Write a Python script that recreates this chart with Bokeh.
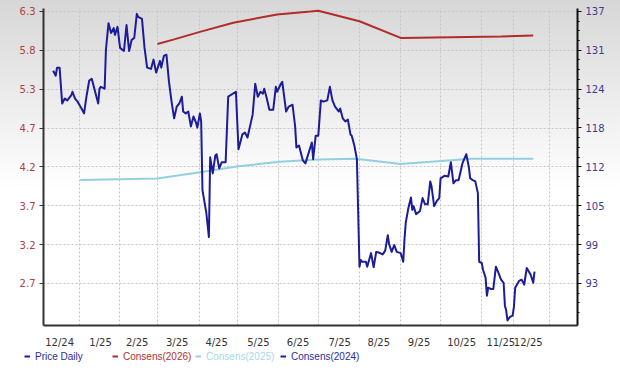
import numpy as np
from bokeh.plotting import figure
from bokeh.layouts import column, row
from bokeh.models import Range1d, LinearAxis, FixedTicker, Legend, LegendItem
from bokeh.embed import file_html
from bokeh.resources import INLINE

# x values: days since 2024-12-01
price_day = [10, 12, 13, 15, 17, 19, 21, 24, 25, 27, 29, 32, 34, 36, 38, 40, 42, 45, 46, 47,
             50, 51, 53, 55, 57, 58, 60, 62, 65, 67, 69, 71, 73, 75, 76, 79, 81, 83, 86, 88,
             90, 93, 94, 96, 98, 100, 102, 104, 106, 108, 110, 111, 113, 115, 117, 119, 121, 122, 124, 125,
             126, 129, 131, 132, 134, 136, 137, 139, 141, 144, 146, 152, 154, 157, 159, 161, 165, 167, 169, 171,
             173, 174, 176, 178, 181, 183, 184, 187, 188, 191, 193, 196, 198, 199, 201, 204, 206, 207, 211, 212,
             214, 216, 218, 220, 223, 225, 227, 229, 232, 233, 235, 237, 239, 241, 242, 244, 246, 248, 249, 250,
             253, 254, 257, 259, 261, 263, 266, 268, 270, 271, 273, 275, 277, 280, 282, 283, 284, 286, 288, 289,
             290, 292, 295, 297, 299, 301, 303, 304, 306, 308, 310, 311, 314, 317, 319, 321, 323, 325, 328, 331,
             333, 334, 336, 338, 340, 341, 343, 344, 346, 347, 348, 350, 352, 354, 356, 358, 360, 361, 362, 363,
             365, 367, 368, 369, 372, 374, 376, 377, 378, 381, 383, 384]
price_val = [127.4, 126.6, 127.9, 127.9, 122.1, 122.9, 122.6, 123.4, 124.0, 122.9, 122.4, 121.3, 120.5, 123.4, 125.8, 126.1, 124.5, 122.1, 124.5, 124.8,
             124.5, 130.8, 135.1, 133.5, 134.3, 133.2, 134.5, 131.1, 130.6, 134.8, 130.6, 132.4, 132.7, 136.6, 136.1, 135.8, 131.1, 127.9, 127.7, 129.2,
             127.1, 129.0, 127.9, 129.8, 130.0, 125.6, 122.4, 119.7, 121.6, 122.1, 123.2, 120.8, 120.5, 120.8, 118.4, 120.0, 119.0, 118.2, 120.5, 119.2,
             108.1, 104.4, 100.5, 113.4, 110.8, 113.7, 113.9, 111.6, 112.6, 112.6, 123.2, 124.0, 114.7, 117.1, 117.4, 116.6, 120.3, 125.3, 123.2, 124.0,
             123.7, 124.5, 122.9, 121.1, 121.1, 124.8, 124.0, 125.3, 125.6, 120.8, 121.6, 121.9, 118.4, 115.0, 115.3, 112.9, 112.4, 113.1, 115.8, 113.1,
             116.9, 116.9, 122.6, 122.4, 122.6, 124.8, 122.6, 121.6, 120.8, 121.3, 119.7, 119.2, 119.5, 117.1, 116.9, 115.3, 113.1, 95.7, 96.8, 96.5,
             96.5, 95.7, 97.9, 95.6, 98.1, 98.0, 97.7, 98.3, 100.8, 99.4, 98.1, 99.2, 98.1, 97.9, 96.5, 100.2, 102.9, 105.2, 106.9, 104.9,
             105.5, 104.2, 104.7, 106.8, 105.8, 105.8, 109.5, 108.7, 105.5, 106.3, 106.8, 110.0, 110.4, 110.3, 112.6, 109.2, 109.7, 109.7, 112.4, 113.9,
             111.8, 110.0, 109.7, 109.5, 107.6, 96.5, 96.3, 95.2, 93.9, 91.0, 92.3, 92.1, 92.1, 95.7, 94.7, 93.6, 93.1, 89.4, 88.6, 87.0,
             87.6, 87.8, 89.2, 92.3, 93.4, 93.6, 92.8, 94.2, 95.5, 94.4, 93.1, 94.9]

cons2026_day = [91, 104, 124, 150, 184, 210, 216, 248, 280, 319, 358, 383]
cons2026_val = [5.87, 5.93, 6.03, 6.15, 6.26, 6.30, 6.31, 6.17, 5.95, 5.96, 5.97, 5.98]

cons2025_day = [31, 91, 128, 154, 186, 216, 245, 280, 335, 383]
cons2025_val = [4.07, 4.09, 4.18, 4.25, 4.31, 4.34, 4.35, 4.28, 4.35, 4.35]

cons2024_day = []
cons2024_val = []

month_labels = ["12/24", "1/25", "2/25", "3/25", "4/25", "5/25", "6/25", "7/25",
                "8/25", "9/25", "10/25", "11/25", "12/25"]
month_label_day = [15.0, 46.8, 75.3, 106.4, 137.0, 169.5, 200.3, 232.6,
                   263.0, 294.3, 327.4, 357.8, 379.1]
month_grid_day = [30.5, 61.6, 91.1, 123.8, 153.3, 185.1, 216.2, 248.0, 279.9,
                  311.0, 342.9, 367.7, 395.6]

left_tick_labels = ["2.7", "3.2", "3.7", "4.2", "4.7", "5.3", "5.8", "6.3"]
right_tick_labels = ["93", "99", "105", "112", "118", "124", "131", "137"]

legend_labels = ["Price Daily", "Consens(2026)", "Consens(2025)", "Consens(2024)"]

C_PRICE = "#1c1c98"
C_2026 = "#b32b2b"
C_2025 = "#93d0df"
C_2024 = "#1c1c98"

p = figure(width=620, height=350, output_backend="svg", toolbar_location=None,
           x_range=Range1d(2.49, 417.4), y_range=Range1d(2.143, 6.339),
           min_border_left=43, min_border_right=43, min_border_top=8, min_border_bottom=18,
           border_fill_color=None, background_fill_color=None, outline_line_color=None,
           styles={"background": "linear-gradient(to bottom, #d7d7d7 0%, #ffffff 54%, #ffffff 100%)"})

p.extra_y_ranges = {"price": Range1d(86.19, 137.47)}

# left axis (consensus)
left_ticks = [float(v) for v in np.linspace(2.7, 6.3, 8)]
ax_l = p.yaxis[0]
ax_l.ticker = FixedTicker(ticks=left_ticks)
ax_l.major_label_overrides = {t: s for t, s in zip(left_ticks, left_tick_labels)}
ax_l.major_label_text_color = "#b04040"
ax_l.major_label_text_font = "DejaVu Sans"
ax_l.major_label_text_font_size = "10px"
ax_l.axis_line_color = "#333333"
ax_l.axis_line_width = 2
ax_l.major_tick_line_color = "#333333"
ax_l.major_tick_out = 4
ax_l.major_tick_in = 0
ax_l.minor_tick_line_color = None
ax_l.major_label_standoff = 4

# right axis (price)
right_ticks = [float(v) for v in np.linspace(93, 137, 8)]
step = right_ticks[1] - right_ticks[0]
minor = []
for t in right_ticks:
    for k in range(-3, 4):
        minor.append(t + k * step / 4)
ax_r = LinearAxis(y_range_name="price",
                  ticker=FixedTicker(ticks=right_ticks, minor_ticks=minor))
ax_r.major_label_overrides = {t: s for t, s in zip(right_ticks, right_tick_labels)}
ax_r.major_label_text_color = "#3c3c90"
ax_r.major_label_text_font = "DejaVu Sans"
ax_r.major_label_text_font_size = "10px"
ax_r.axis_line_color = "#111111"
ax_r.axis_line_width = 2
ax_r.major_tick_line_color = "#111111"
ax_r.major_tick_out = 4
ax_r.major_tick_in = 0
ax_r.minor_tick_line_color = "#111111"
ax_r.minor_tick_out = 2
ax_r.minor_tick_in = 0
ax_r.major_label_standoff = 4
p.add_layout(ax_r, "right")

# bottom axis
ax_b = p.xaxis[0]
ax_b.ticker = FixedTicker(ticks=month_label_day)
ax_b.major_label_overrides = {t: s for t, s in zip(month_label_day, month_labels)}
ax_b.major_label_text_color = "#333333"
ax_b.major_label_text_font = "DejaVu Sans"
ax_b.major_label_text_font_size = "10px"
ax_b.axis_line_color = "#333333"
ax_b.axis_line_width = 2
ax_b.major_tick_line_color = None
ax_b.minor_tick_line_color = None
ax_b.major_label_standoff = 5

p.xgrid.ticker = FixedTicker(ticks=month_grid_day)
for g in (p.xgrid[0], p.ygrid[0]):
    g.grid_line_color = "#c4c4c4"
    g.grid_line_dash = "2 2"
    g.grid_line_width = 1

r2025 = p.line(cons2025_day, cons2025_val, line_color=C_2025, line_width=2)
r2026 = p.line(cons2026_day, cons2026_val, line_color=C_2026, line_width=2)
r2024 = p.line(cons2024_day, cons2024_val, line_color=C_2024, line_width=2)
rprice = p.line(price_day, price_val, line_color=C_PRICE, line_width=2,
                y_range_name="price", line_join="round")

# legend strip below the chart
lf = figure(width=620, height=21, output_backend="svg", toolbar_location=None,
            x_range=Range1d(0, 1), y_range=Range1d(0, 1),
            x_axis_location=None, y_axis_location=None,
            min_border_left=0, min_border_right=0, min_border_top=0, min_border_bottom=0,
            border_fill_color="white", background_fill_color="white", outline_line_color=None)
lf.xgrid.visible = False
lf.ygrid.visible = False

legend_styles = [(C_PRICE, "#2c2c9c", 24),
                 (C_2026, "#b03030", 112),
                 (C_2025, "#a9d8e4", 195),
                 (C_2024, "#2c2c9c", 280)]
for label, (lc, tc, xoff) in zip(legend_labels, legend_styles):
    # swatch-only renderer (NaN point: draws nothing in the strip itself)
    rend = lf.line([float("nan")], [float("nan")], line_color=lc, line_width=2)
    lg = Legend(items=[LegendItem(label=label, renderers=[rend])],
                location=(xoff, 9), orientation="horizontal",
                padding=0, margin=0, spacing=0, glyph_width=6, glyph_height=12,
                label_standoff=5, label_text_font="Liberation Sans",
                label_text_font_size="10px", label_text_color=tc,
                border_line_color=None, background_fill_alpha=0)
    lf.add_layout(lg, "center")

layout = column(p, row(lf, spacing=0), spacing=0)
open("out.html", "w").write(file_html(layout, INLINE))
